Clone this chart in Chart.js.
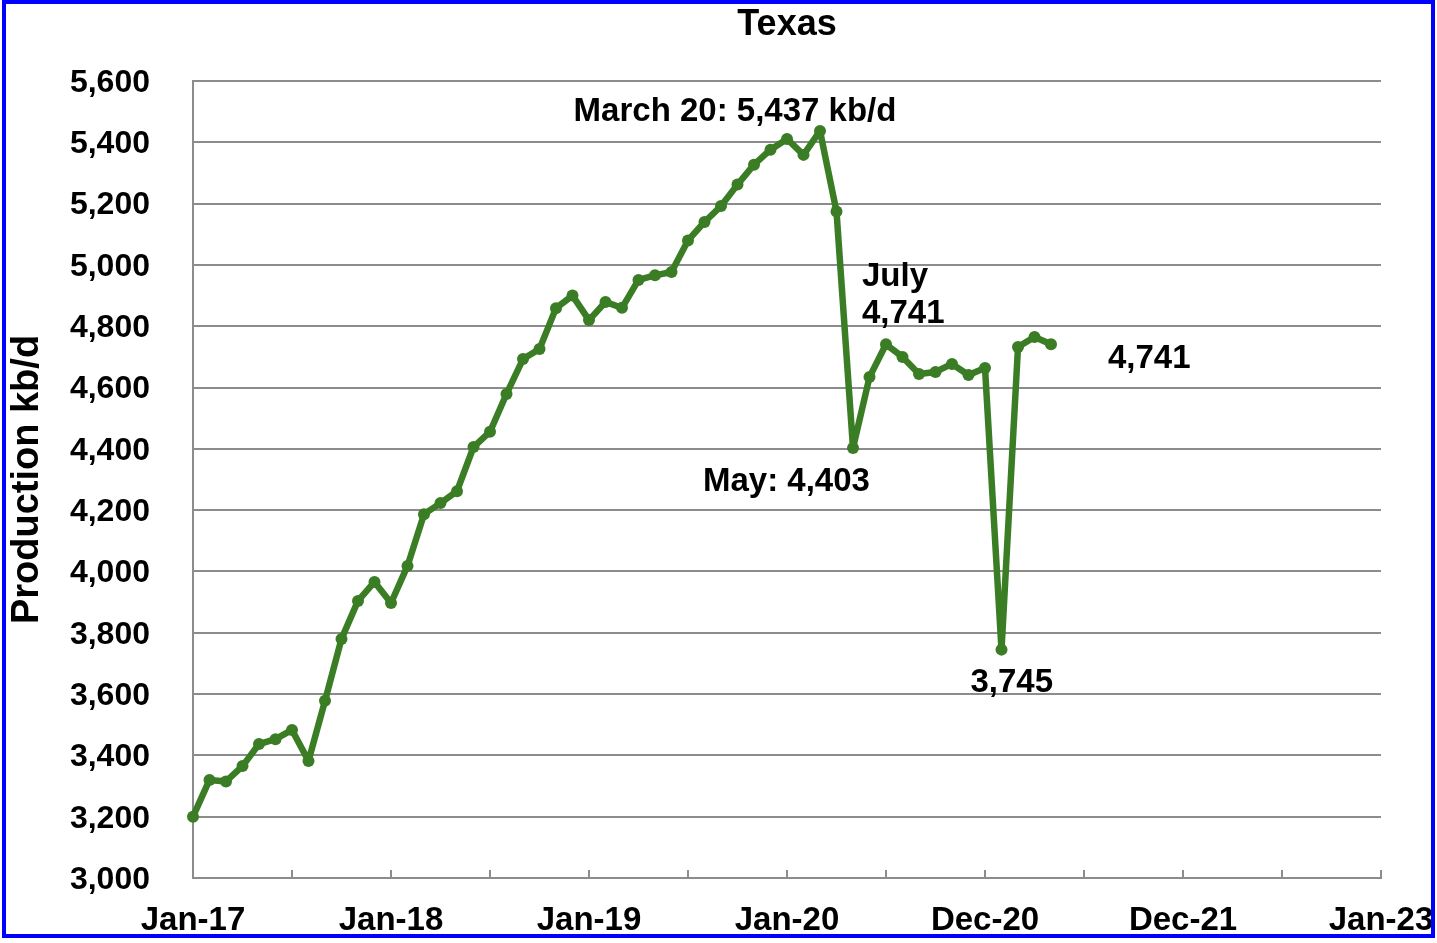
<!DOCTYPE html>
<html>
<head>
<meta charset="utf-8">
<script src="https://cdn.jsdelivr.net/npm/chart.js@4/dist/chart.umd.min.js"></script>
<style>
  html, body { margin: 0; padding: 0; background: #fff; }
  #texasChart { display: block; }
</style>
</head>
<body>
<canvas id="texasChart" width="1437" height="943"></canvas>
<script>
// Texas crude production, kb/d, monthly from Jan-17
const production = [
    3200, 3320, 3315, 3365, 3437, 3453, 3483, 3382, 3578, 3780, 3904, 3966,
    3897, 4018, 4187, 4223, 4262, 4406, 4456, 4579, 4693, 4726, 4859, 4900,
    4820, 4879, 4860, 4951, 4966, 4977, 5080, 5140, 5192, 5262, 5327, 5376,
    5411, 5359, 5437, 5174, 4403, 4634, 4741, 4700, 4644, 4651, 4677, 4641,
    4664, 3745, 4732, 4765, 4741
];

// x axis labels every 6 months (month index 0 = Jan-17)
const tickLabels = ['Jan-17', '', 'Jan-18', '', 'Jan-19', '', 'Jan-20', '', 'Dec-20', '', 'Dec-21', '', 'Jan-23'];

const yTicks = [3000, 3200, 3400, 3600, 3800, 4000, 4200, 4400, 4600, 4800, 5000, 5200, 5400, 5600];

const FONT = '"Liberation Sans", Arial, sans-serif';
const GREEN = '#3a7d24';
const GRID = '#8c8c8c';

// annotations anchored to a data point index, offsets in px
const notes = [
    { i: 38, lines: ['March 20: 5,437 kb/d'], dx: -85, dy: -10, align: 'center' },
    { i: 42, lines: ['July', '4,741'], dx: -24, dy: -58, align: 'left' },
    { i: 40, lines: ['May: 4,403'], dx: -150, dy: 43, align: 'left' },
    { i: 49, lines: ['3,745'], dx: -31, dy: 42, align: 'left' },
    { i: 52, lines: ['4,741'], dx: 57, dy: 24, align: 'left' }
];

const decorations = {
    id: 'decorations',
    afterDraw(chart) {
        const ctx = chart.ctx;
        const area = chart.chartArea;
        const xs = chart.scales.x;
        const ys = chart.scales.y;
        ctx.save();

        // small tick marks pointing up into the plot
        ctx.strokeStyle = GRID;
        ctx.lineWidth = 2;
        for (let m = 0; m <= 72; m += 6) {
            const px = Math.round(xs.getPixelForValue(m));
            ctx.beginPath();
            ctx.moveTo(px, area.bottom);
            ctx.lineTo(px, area.bottom - 8);
            ctx.stroke();
        }

        ctx.fillStyle = '#000';
        // title
        ctx.font = 'bold 36px ' + FONT;
        ctx.textAlign = 'center';
        ctx.textBaseline = 'alphabetic';
        ctx.fillText('Texas', (area.left + area.right) / 2, 35);

        // y axis title
        ctx.save();
        ctx.translate(38, (area.top + area.bottom) / 2);
        ctx.rotate(-Math.PI / 2);
        ctx.font = 'bold 38px ' + FONT;
        ctx.fillText('Production kb/d', 0, 0);
        ctx.restore();

        // point annotations
        ctx.font = 'bold 33px ' + FONT;
        notes.forEach(function (n) {
            const px = xs.getPixelForValue(n.i);
            const py = ys.getPixelForValue(production[n.i]);
            ctx.textAlign = n.align;
            n.lines.forEach(function (t, k) {
                ctx.fillText(t, px + n.dx, py + n.dy + k * 37);
            });
        });

        // blue frame
        ctx.strokeStyle = '#0000ff';
        ctx.lineWidth = 4;
        ctx.strokeRect(4, 2, 1429, 934);
        ctx.restore();
    }
};

const ctx = document.getElementById('texasChart').getContext('2d');
new Chart(ctx, {
    type: 'line',
    data: {
        datasets: [{
            label: 'Texas',
            data: production.map(function (v, i) { return { x: i, y: v }; }),
            borderColor: GREEN,
            backgroundColor: GREEN,
            borderWidth: 6.5,
            borderJoinStyle: 'round',
            borderCapStyle: 'round',
            pointRadius: 6,
            pointBorderWidth: 0,
            pointBackgroundColor: GREEN,
            tension: 0,
            clip: false
        }]
    },
    options: {
        responsive: false,
        animation: false,
        layout: {
            padding: { top: 81, right: 56, left: 0, bottom: 0 }
        },
        scales: {
            x: {
                type: 'linear',
                min: 0,
                max: 72,
                afterFit: function (scale) {
                    scale.height = 65;
                    scale.paddingLeft = 0;
                    scale.paddingRight = 0;
                },
                afterBuildTicks: function (scale) {
                    scale.ticks = tickLabels.map(function (t, k) { return { value: k * 6 }; });
                },
                ticks: {
                    autoSkip: false,
                    maxRotation: 0,
                    padding: 15,
                    color: '#000',
                    font: { family: FONT, size: 33, weight: 'bold' },
                    callback: function (value) { return tickLabels[value / 6]; }
                },
                grid: { display: false },
                border: { display: true, color: GRID, width: 2 }
            },
            y: {
                min: 3000,
                max: 5600,
                afterFit: function (scale) {
                    scale.width = 193;
                    scale.paddingTop = 0;
                    scale.paddingBottom = 0;
                },
                afterBuildTicks: function (scale) {
                    scale.ticks = yTicks.map(function (v) { return { value: v }; });
                },
                ticks: {
                    padding: 43,
                    labelOffset: 2,
                    color: '#000',
                    font: { family: FONT, size: 32, weight: 'bold' },
                    callback: function (value) { return value.toLocaleString('en-US'); }
                },
                grid: { color: GRID, lineWidth: 2, drawTicks: false },
                border: { display: true, color: GRID, width: 2 }
            }
        },
        plugins: {
            legend: { display: false },
            title: { display: false },
            tooltip: { enabled: false }
        }
    },
    plugins: [decorations]
});
</script>
</body>
</html>
